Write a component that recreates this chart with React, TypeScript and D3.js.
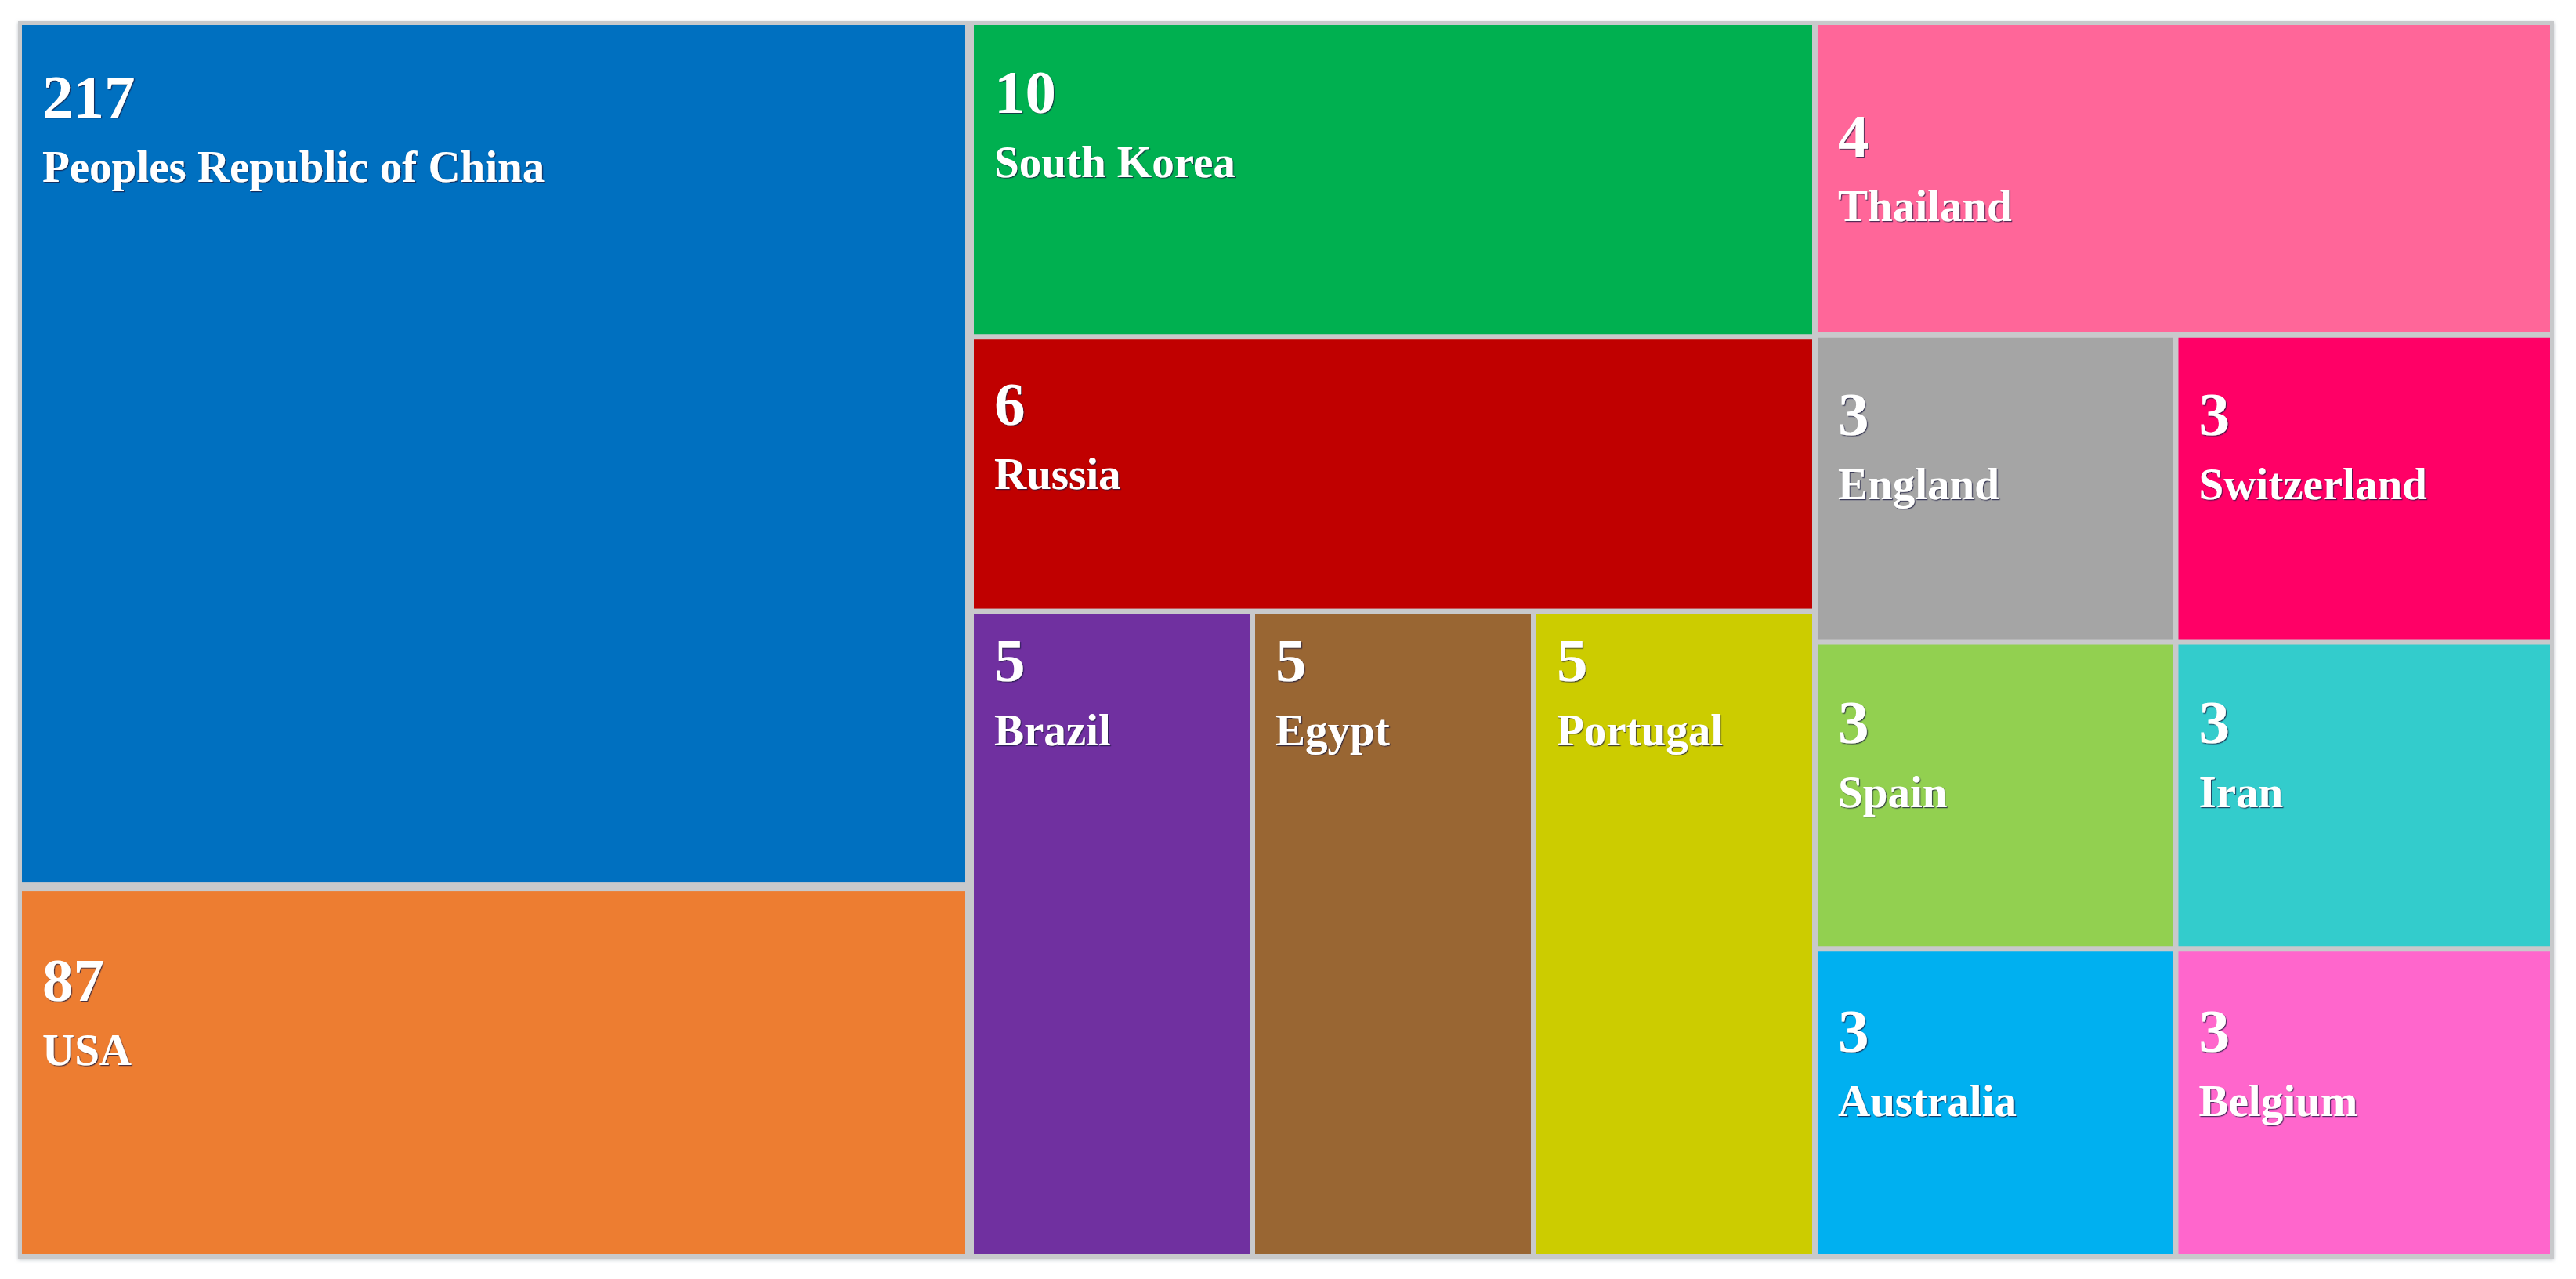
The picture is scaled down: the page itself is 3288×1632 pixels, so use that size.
import React from "react";
import * as d3 from "d3";

// ---------- data ----------
const countries = [
  "Peoples Republic of China",
  "USA",
  "South Korea",
  "Russia",
  "Brazil",
  "Egypt",
  "Portugal",
  "Thailand",
  "England",
  "Switzerland",
  "Spain",
  "Iran",
  "Australia",
  "Belgium",
];
const counts = [217, 87, 10, 6, 5, 5, 5, 4, 3, 3, 3, 3, 3, 3];
const colors = [
  "#0070C0",
  "#ED7D31",
  "#00B050",
  "#C00000",
  "#7030A0",
  "#996633",
  "#CCCC00",
  "#FF6699",
  "#A5A5A5",
  "#FF0066",
  "#92D050",
  "#33CCCC",
  "#00B0F0",
  "#FF66CC",
];

// ---------- layout of the hand-arranged treemap (columns -> rows -> cells) ----------
const columnWeights = [1215, 1077, 942];
const columnRows = [
  [[0], [1]],
  [[2], [3], [4, 5, 6]],
  [[7], [8, 9], [10, 11], [12, 13]],
];
const rowWeights = [
  [1103, 473],
  [402, 351, 825],
  [398, 391, 391, 392],
];
const cellWeights = [
  [[1], [1]],
  [[1], [1], [1, 1, 1]],
  [[1], [460, 481], [460, 481], [460, 481]],
];
const labelDrop = [
  [118, 140],
  [112, 109, 85],
  [168, 124, 125, 128],
];

const WIDTH = 3288;
const HEIGHT = 1632;
const ORIGIN_X = 28;
const ORIGIN_Y = 32;
const MAP_W = 3227;
const MAP_H = 1568;

type Node = {
  name: string;
  col?: number;
  idx?: number;
  drop?: number;
  weight?: number;
  children?: Node[];
};

function buildTree(): Node {
  return {
    name: "root",
    children: columnRows.map((rows, c) => {
      const rSum = d3.sum(rowWeights[c]);
      return {
        name: "col" + c,
        col: c,
        children: rows.map((cells, r) => {
          const cSum = d3.sum(cellWeights[c][r]);
          return {
            name: "row" + c + "-" + r,
            col: c,
            children: cells.map((i, k) => ({
              name: countries[i],
              idx: i,
              col: c,
              drop: labelDrop[c][r],
              weight:
                columnWeights[c] *
                (rowWeights[c][r] / rSum) *
                (cellWeights[c][r][k] / cSum),
            })),
          };
        }),
      };
    }),
  };
}

export default function App() {
  const root = d3
    .hierarchy<Node>(buildTree())
    .sum((d) => d.weight ?? 0);

  const treemap = d3
    .treemap<Node>()
    .tile(d3.treemapSliceDice)
    .size([MAP_W, MAP_H])
    .paddingInner((n) => (n.depth === 1 && n.data.col === 0 ? 11 : 7))
    .paddingRight((n) => (n.depth === 1 && n.data.col === 0 ? 4 : 0));

  const laid = treemap(root);
  const leaves = laid.leaves();

  const numSize = 79;
  const labelSize = 57;
  const padX = 26;

  return (
    <svg
      width={WIDTH}
      height={HEIGHT}
      style={{ position: "absolute", left: 0, top: 0, background: "#ffffff" }}
    >
      <defs>
        <filter id="txtShadow" x="-5%" y="-20%" width="110%" height="140%">
          <feDropShadow dx="1.2" dy="1.2" stdDeviation="0.6" floodColor="#1a1a40" floodOpacity="0.75" />
        </filter>
        <filter id="frameShadow" x="-1%" y="-1%" width="102%" height="103%">
          <feDropShadow dx="0" dy="1.5" stdDeviation="2" floodColor="#9aa3ad" floodOpacity="0.6" />
        </filter>
      </defs>
      <rect
        x={ORIGIN_X - 5}
        y={ORIGIN_Y - 5}
        width={MAP_W + 10}
        height={MAP_H + 11}
        fill="#c8c9cb"
        filter="url(#frameShadow)"
      />
      <g transform={`translate(${ORIGIN_X},${ORIGIN_Y})`}>
        {leaves.map((n) => {
          const i = n.data.idx as number;
          return (
            <rect
              key={"r" + i}
              x={n.x0}
              y={n.y0}
              width={n.x1 - n.x0}
              height={n.y1 - n.y0}
              fill={colors[i]}
            />
          );
        })}
        {leaves.map((n) => {
          const i = n.data.idx as number;
          const drop = n.data.drop as number;
          return (
            <g
              key={"t" + i}
              fill="#ffffff"
              fontFamily="'Liberation Serif', 'Times New Roman', serif"
              fontWeight="bold"
              filter="url(#txtShadow)"
            >
              <text x={n.x0 + padX} y={n.y0 + drop} fontSize={numSize}>
                {counts[i]}
              </text>
              <text x={n.x0 + padX} y={n.y0 + drop + 82} fontSize={labelSize}>
                {countries[i]}
              </text>
            </g>
          );
        })}
      </g>
    </svg>
  );
}
